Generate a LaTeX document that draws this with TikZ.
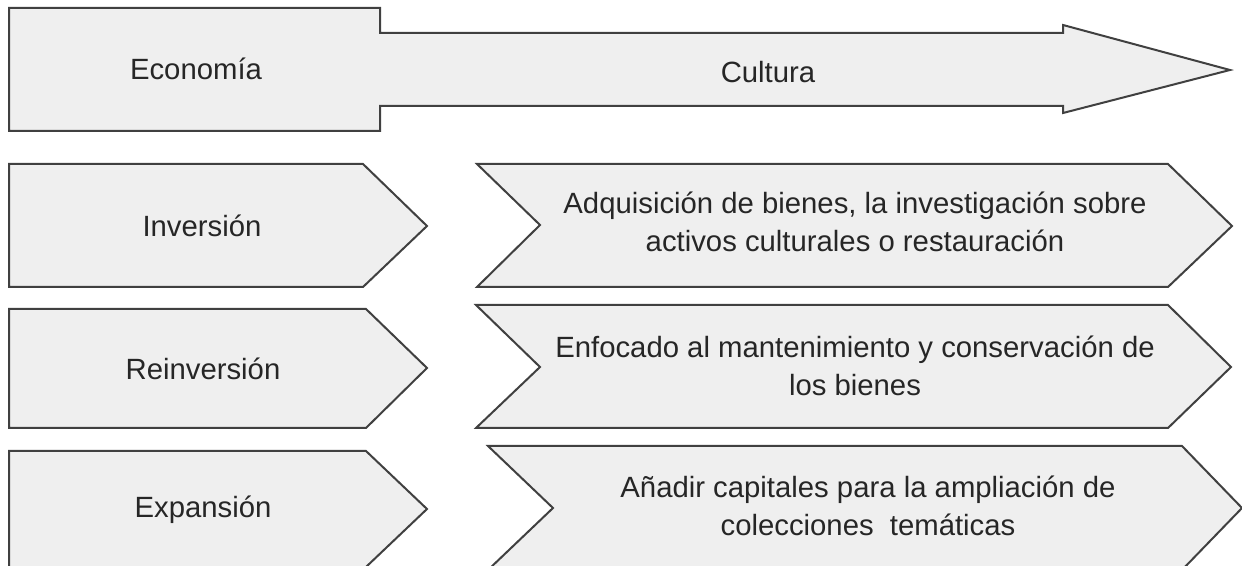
\documentclass[tikz,border=0pt]{standalone}
\usepackage{fontspec}
\setmainfont{Liberation Sans}
\usepackage{xcolor}
\definecolor{boxfill}{RGB}{239,239,239}
\definecolor{boxline}{RGB}{64,64,64}

\begin{document}
\begin{tikzpicture}[x=0.5pt,y=-0.5pt,
    blockshape/.style={draw=boxline, fill=boxfill, line width=1pt, line join=miter},
    blocktext/.style={font=\fontsize{14.65}{19}\selectfont, align=center, text=black!85}]
    \useasboundingbox (0,0) rectangle (1242,566);

    % Top arrow: Economia -> Cultura
    \draw[blockshape] (9,8) -- (380,8) -- (380,33) -- (1063,33) -- (1063,25) -- (1230,70)
        -- (1063,113) -- (1063,106) -- (380,106) -- (380,131) -- (9,131) -- cycle;
    \node[blocktext, anchor=base] (economia) at (196,80) {Economía};
    \node[blocktext, anchor=base] (cultura) at (768,83) {Cultura};

    % Left column: pentagons
    \draw[blockshape] (9,164) -- (363,164) -- (427,226) -- (363,287) -- (9,287) -- cycle;
    \draw[blockshape] (9,309) -- (366,309) -- (427,368) -- (366,428) -- (9,428) -- cycle;
    \draw[blockshape] (9,451) -- (366,451) -- (427,509) -- (366,567) -- (9,567) -- cycle;

    \node[blocktext] (inversion) at (202,226) {Inversión};
    \node[blocktext] (reinversion) at (203,369) {Reinversión};
    \node[blocktext] (expansion) at (203,510) {Expansión};

    % Right column: chevrons
    \draw[blockshape] (477,164) -- (1168,164) -- (1232,226) -- (1168,287) -- (477,287) -- (540,225) -- cycle;
    \draw[blockshape] (476,305) -- (1168,305) -- (1231,367) -- (1168,428) -- (476,428) -- (540,367) -- cycle;
    \draw[blockshape] (488,446) -- (1182,446) -- (1242,508) -- (1182,570) -- (488,570) -- (553,508) -- cycle;

    \node[blocktext] (adquisicion) at (855,222)
        {Adquisición de bienes, la investigación sobre\\activos culturales o restauración};
    \node[blocktext] (enfocado) at (855,366)
        {Enfocado al mantenimiento y conservación de\\los bienes};
    \node[blocktext] (anadir) at (868,506)
        {Añadir capitales para la ampliación de\\colecciones~~temáticas};
\end{tikzpicture}
\end{document}
